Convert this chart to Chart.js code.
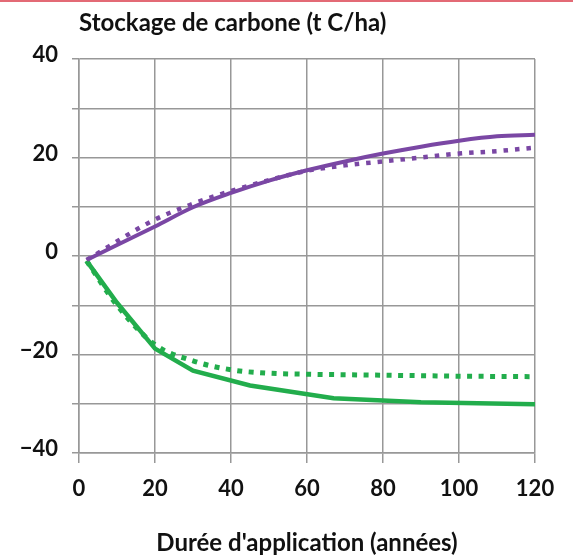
<!DOCTYPE html>
<html>
<head>
<meta charset="utf-8">
<script src="https://cdn.jsdelivr.net/npm/chart.js@4.4.1/dist/chart.umd.min.js"></script>
<style>
  html, body { margin: 0; padding: 0; background: #ffffff; }
  #wrap { position: relative; width: 573px; height: 555px; }
  #topline { position: absolute; left: 0; top: 0; width: 573px; height: 2px; background: #e36a75; }
  canvas { position: absolute; left: 0; top: 0; }
</style>
</head>
<body>
<div id="wrap">
  <canvas id="c" width="573" height="555"></canvas>
  <div id="topline"></div>
</div>
<script>
// ---- Data ----
const chartTitle = "Stockage de carbone (t C/ha)";
const xAxisTitle = "Durée d'application (années)";
const yTickValues = [-40, -20, 0, 20, 40];
const xTickValues = [0, 20, 40, 60, 80, 100, 120];

const purpleSolidX = [2, 20, 30, 40, 50, 60, 70, 80, 90, 100, 110, 120];
const purpleSolidY = [-0.8, 6.0, 9.9, 12.8, 15.3, 17.4, 19.2, 20.8, 22.2, 23.4, 24.3, 24.6];

const purpleDotX = [2, 20, 30, 40, 50, 60, 70, 80, 90, 100, 110, 120];
const purpleDotY = [-0.8, 7.4, 10.6, 13.2, 15.4, 17.3, 18.4, 19.2, 20.0, 20.8, 21.3, 22.0];

const greenSolidX = [2, 10, 20, 30, 45, 67, 90, 120];
const greenSolidY = [-1, -9.5, -18.8, -23.3, -26.3, -28.9, -29.7, -30.1];

const greenDotX = [2, 10, 20, 30, 40, 50, 60, 80, 100, 120];
const greenDotY = [-1, -10, -18, -21.3, -23.1, -23.8, -24.0, -24.2, -24.4, -24.5];

const purple = '#7a47a4';
const green = '#22ad4c';
const gridColor = '#989898';

function pts(xs, ys) { return xs.map((x, i) => ({ x: x, y: ys[i] })); }

const titlePlugin = {
  id: 'topTitle',
  afterDraw(chart) {
    const ctx = chart.ctx;
    ctx.save();
    ctx.font = 'bold 24px Lato';
    ctx.fillStyle = '#111111';
    ctx.textAlign = 'left';
    ctx.textBaseline = 'alphabetic';
    ctx.fillText(chartTitle, chart.chartArea.left, 31);
    ctx.restore();
  }
};

new Chart(document.getElementById('c'), {
  type: 'line',
  data: {
    datasets: [
      { data: pts(purpleSolidX, purpleSolidY), borderColor: purple, borderWidth: 4, cubicInterpolationMode: 'monotone', order: 2 },
      { data: pts(purpleDotX, purpleDotY), borderColor: purple, borderWidth: 4.5, borderDash: [4.5, 7], borderCapStyle: 'butt', cubicInterpolationMode: 'monotone', order: 1 },
      { data: pts(greenSolidX, greenSolidY), borderColor: green, borderWidth: 4.5, tension: 0, order: 2 },
      { data: pts(greenDotX, greenDotY), borderColor: green, borderWidth: 5, borderDash: [5, 6.5], borderCapStyle: 'butt', cubicInterpolationMode: 'monotone', order: 1 }
    ]
  },
  options: {
    responsive: false,
    animation: false,
    events: [],
    layout: { padding: { top: 59, right: 38, left: 0, bottom: 0 } },
    elements: { point: { radius: 0 } },
    plugins: { legend: { display: false }, tooltip: { enabled: false }, title: { display: false } },
    scales: {
      x: {
        type: 'linear',
        min: 0, max: 120,
        afterBuildTicks(scale) { scale.ticks = xTickValues.map(v => ({ value: v })); },
        afterFit(scale) { scale.height = 102; },
        grid: { color: gridColor, lineWidth: 1.5, tickLength: 10, tickColor: gridColor },
        border: { color: gridColor, width: 1.5 },
        ticks: { color: '#111111', font: { family: 'Lato', weight: 'bold', size: 22 }, padding: 13, maxRotation: 0 },
        title: { display: true, text: xAxisTitle, color: '#111111', font: { family: 'Lato', weight: 'bold', size: 24, lineHeight: 1 }, padding: { top: 0, bottom: 0 } }
      },
      y: {
        type: 'linear',
        min: -40, max: 40,
        ticks: {
          stepSize: 10,
          color: '#111111',
          font: { family: 'Lato', weight: 'bold', size: 22 },
          padding: 14,
          labelOffset: -4,
          callback: (v) => yTickValues.includes(v) ? (v < 0 ? '\u2212' + Math.abs(v) : String(v)) : ''
        },
        afterFit(scale) { scale.width = 79; },
        grid: { color: gridColor, lineWidth: 1.5, tickLength: 7, tickColor: gridColor },
        border: { color: gridColor, width: 1.5 }
      }
    }
  },
  plugins: [titlePlugin]
});
</script>
</body>
</html>
